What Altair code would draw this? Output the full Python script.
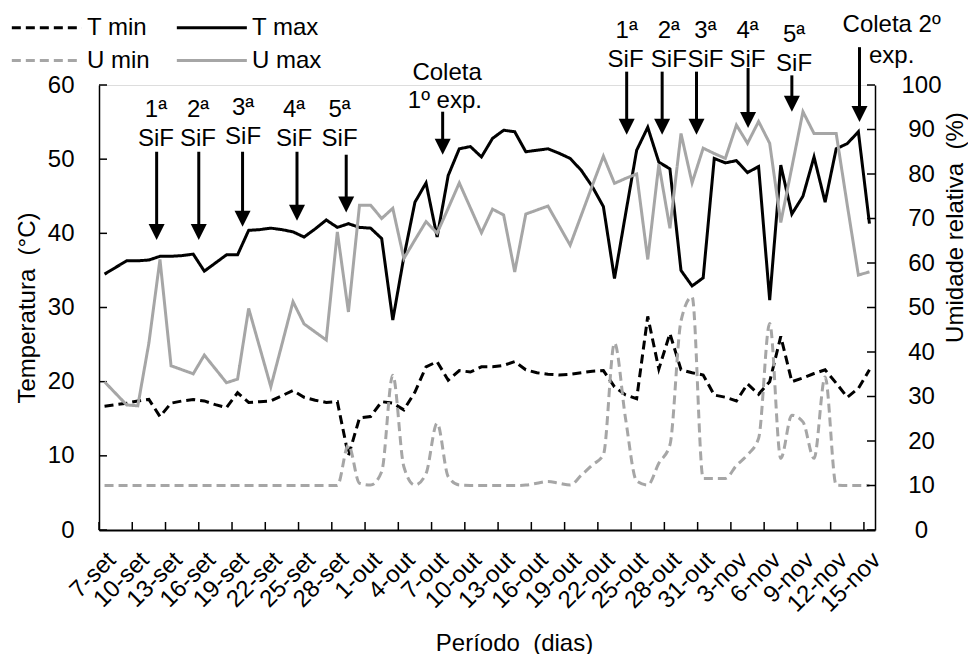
import altair as alt
import pandas as pd

# Daily categories, 7-set .. 15-nov
datas = ([f"{d}-set" for d in range(7, 31)]
         + [f"{d}-out" for d in range(1, 32)]
         + [f"{d}-nov" for d in range(1, 16)])

# Temperature (°C)
t_min = [16.7, 16.9, 17.1, 17.4, 17.6, 15.3, 17.1, 17.4, 17.6, 17.4,
         16.9, 16.5, 18.5, 17.2, 17.3, 17.4, 18.1, 18.8, 17.9, 17.5,
         17.2, 17.3, 10.0, 15.1, 15.3, 17.3, 17.1, 16.2, 18.6, 22.0,
         22.7, 20.2, 21.5, 21.3, 22.0, 22.0, 22.2, 22.7, 21.6, 21.2,
         21.0, 20.9, 21.0, 21.2, 21.4, 21.5, 19.3, 18.2, 17.7, 28.8,
         21.7, 26.5, 21.6, 21.2, 20.9, 18.2, 17.9, 17.4, 19.7, 18.3,
         20.0, 26.1, 20.0, 20.5, 21.1, 21.6, 19.8, 17.9, 19.1, 21.6]
t_max = [34.5, 35.4, 36.3, 36.3, 36.4, 36.9, 36.9, 37.0, 37.2, 34.9,
         36.0, 37.1, 37.1, 40.4, 40.5, 40.7, 40.5, 40.2, 39.5, 40.6,
         41.8, 40.8, 41.3, 40.8, 40.7, 39.3, 28.3, 36.8, 44.2, 46.8,
         39.5, 47.8, 51.4, 51.7, 50.3, 52.8, 53.9, 53.7, 51.0, 51.2,
         51.4, 50.8, 50.1, 48.5, 46.3, 43.6, 33.9, 42.6, 51.2, 54.3,
         49.6, 48.7, 35.0, 32.9, 34.0, 50.1, 49.5, 49.8, 48.2, 49.0,
         31.0, 49.2, 42.6, 45.0, 50.3, 44.2, 51.4, 52.1, 53.7, 41.3]

# Relative humidity (%)
u_min = [10.0, 10.0, 10.0, 10.0, 10.0, 10.0, 10.0, 10.0, 10.0, 10.0,
         10.0, 10.0, 10.0, 10.0, 10.0, 10.0, 10.0, 10.0, 10.0, 10.0,
         10.0, 10.0, 19.1, 10.5, 10.1, 13.1, 34.8, 14.2, 10.1, 12.7,
         24.0, 12.0, 10.1, 10.0, 10.0, 10.0, 10.0, 10.0, 10.1, 10.5,
         10.9, 10.5, 10.1, 12.3, 14.6, 16.9, 42.0, 25.0, 11.0, 10.1,
         15.0, 19.1, 47.0, 52.4, 11.6, 11.6, 11.6, 14.5, 16.9, 20.6,
         46.4, 16.1, 25.8, 24.3, 16.1, 34.4, 10.1, 10.0, 10.0, 10.0]
u_max = [33.3, 30.7, 28.1, 27.9, 42.0, 60.8, 36.9, 36.0, 35.1, 39.3,
         36.2, 33.1, 33.9, 49.8, 41.0, 32.2, 41.7, 51.3, 46.3, 44.5,
         42.7, 67.0, 49.0, 73.0, 73.0, 70.0, 72.3, 61.0, 65.2, 69.3,
         66.7, 72.3, 78.0, 72.4, 66.8, 72.1, 70.8, 58.0, 71.0, 71.9,
         72.8, 68.4, 64.0, 70.7, 77.4, 84.0, 77.9, 79.0, 80.0, 60.8,
         82.2, 67.8, 89.1, 78.0, 85.8, 84.6, 83.5, 91.0, 86.9, 91.8,
         86.9, 69.1, 81.5, 94.0, 89.1, 89.1, 89.1, 73.0, 57.3, 58.0]

series = ["T min", "T max", "U min", "U max"]
cores = ["#000000", "#000000", "#A6A6A6", "#A6A6A6"]
tracos = [[9, 5], [1, 0], [9, 5], [1, 0]]

ticks_temp = [0, 10, 20, 30, 40, 50, 60]
ticks_umid = [0, 10, 20, 30, 40, 50, 60, 70, 80, 90, 100]
rotulos_x = list(range(0, len(datas), 3))

# Arrows: day position, top of shaft and tip (in °C units of the left axis)
seta_dia = [4.7, 8.5, 12.45, 17.36, 21.8, 30.5, 47.1, 50.3, 53.4, 58.05, 62.0, 68.1]
seta_topo = [51.0, 51.0, 51.0, 51.0, 50.6, 56.4, 61.8, 61.8, 61.8, 62.3, 61.3, 65.1]
seta_ponta = [39.1, 39.1, 40.9, 41.7, 42.8, 50.6, 53.3, 53.3, 53.3, 54.2, 56.4, 55.0]

# Event labels
nota_texto = ["1ª", "SiF", "2ª", "SiF", "3ª", "SiF", "4ª", "SiF", "5ª", "SiF",
              "Coleta", "1º exp.",
              "1ª", "SiF", "2ª", "SiF", "3ª", "SiF", "4ª", "SiF", "5ª", "SiF",
              "Coleta 2º", "exp."]
nota_dia = [4.64, 4.64, 8.43, 8.43, 12.5, 12.5, 17.1, 17.1, 21.2, 21.2,
            30.9, 30.7,
            47.1, 47.0, 50.9, 50.9, 54.2, 54.2, 58.0, 58.0, 62.2, 62.2,
            71.0, 71.0]
nota_t = [55.7, 51.8, 55.7, 51.8, 56.0, 52.0, 55.7, 51.8, 55.7, 51.8,
          60.7, 56.9,
          66.3, 62.4, 66.3, 62.4, 66.3, 62.4, 66.3, 62.4, 65.8, 61.9,
          67.1, 63.0]

FONTE = "Liberation Sans"
dias = list(range(len(datas)))

tmin_df = pd.DataFrame({"dia": dias, "serie": "T min", "t": t_min})
tmax_df = pd.DataFrame({"dia": dias, "serie": "T max", "t": t_max})
umin_df = pd.DataFrame({"dia": dias, "serie": "U min", "u": u_min})
umax_df = pd.DataFrame({"dia": dias, "serie": "U max", "u": u_max})
setas_df = pd.DataFrame({"dia": seta_dia, "t": seta_topo, "t2": seta_ponta})
notas_df = pd.DataFrame({"dia": nota_dia, "t": nota_t, "texto": nota_texto})
tick_x_df = pd.DataFrame({"dia": [d - 0.5 for d in rotulos_x]})
tick_t_df = pd.DataFrame({"t": ticks_temp})
tick_u_df = pd.DataFrame({"u": ticks_umid})

label_expr = "[" + ",".join(f"'{d}'" for d in datas) + "][datum.value]"

eixo_x = alt.Axis(values=rotulos_x, labelExpr=label_expr, labelAngle=-45,
                  labelAlign="right", labelBaseline="middle", labelPadding=26,
                  labelOffset=7, ticks=False, tickSize=0, grid=False,
                  labelOverlap=False, labelFlush=False, labelBound=False,
                  labelFontSize=24, labelColor="black", labelFont=FONTE,
                  domainColor="black", domainWidth=2,
                  title="Período\u00a0 (dias)", titleFontSize=24,
                  titleFontWeight="normal", titleColor="black", titleFont=FONTE,
                  titleX=415, titleY=120, titleBaseline="alphabetic",
                  titleAlign="center")
x_enc = alt.X("dia:Q", scale=alt.Scale(domain=[-0.5, len(datas) - 0.5], nice=False, zero=False),
              axis=eixo_x)

eixo_t = alt.Axis(orient="left", values=ticks_temp, ticks=False, tickSize=0, grid=False,
                  labelPadding=25, labelFontSize=24, labelColor="black", labelFont=FONTE,
                  domainColor="black", domainWidth=1.5,
                  title="Temperatura\u00a0 (°C)", titleFontSize=24, titleFontWeight="normal",
                  titleColor="black", titleFont=FONTE, titlePadding=8)
y_t = alt.Y("t:Q", scale=alt.Scale(domain=[0, 60], nice=False), axis=eixo_t)

eixo_u = alt.Axis(orient="right", values=ticks_umid, ticks=False, tickSize=0, grid=False,
                  labelPadding=46, labelAlign="center", labelFontSize=24,
                  labelColor="black", labelFont=FONTE,
                  domainColor="black", domainWidth=1.5,
                  title="Umidade relativa\u00a0 (%)", titleFontSize=24,
                  titleFontWeight="normal", titleColor="black", titleFont=FONTE,
                  titleAngle=270, titleBaseline="top", titleAlign="center",
                  titleX=68, titleY=142)
y_u = alt.Y("u:Q", scale=alt.Scale(domain=[0, 100], nice=False), axis=eixo_u)

# Legend swatch: a long horizontal stroke inside a small symbol box,
# so the rows stay compact while the line sample is 70 px long
legenda = alt.Legend(title=None, orient="none", legendX=-89, legendY=-71, columns=2,
                     direction="horizontal",
                     symbolType="M-1,0L5,0", symbolSize=545, symbolStrokeWidth=3,
                     symbolFillColor="transparent",
                     labelFontSize=24, labelFont=FONTE, labelColor="black",
                     labelOffset=50, columnPadding=20, rowPadding=7, padding=0)
cor = alt.Color("serie:N", scale=alt.Scale(domain=series, range=cores), legend=legenda)
traco = alt.StrokeDash("serie:N", scale=alt.Scale(domain=series, range=tracos), legend=legenda)

linha_tmin = alt.Chart(tmin_df).mark_line(strokeWidth=3).encode(x=x_enc, y=y_t, color=cor, strokeDash=traco)
linha_tmax = alt.Chart(tmax_df).mark_line(strokeWidth=3).encode(x=x_enc, y=y_t, color=cor, strokeDash=traco)
linha_umin = alt.Chart(umin_df).mark_line(strokeWidth=3, interpolate="monotone").encode(
    x=x_enc, y=y_u, color=cor, strokeDash=traco)
linha_umax = alt.Chart(umax_df).mark_line(strokeWidth=3).encode(x=x_enc, y=y_u, color=cor, strokeDash=traco)

# Inward tick marks on the three axes
marca_x = alt.Chart(tick_x_df).mark_rule(color="black", strokeWidth=1.5).encode(
    x=x_enc, y=alt.value(445), y2=alt.value(437))
marca_t = alt.Chart(tick_t_df).mark_rule(color="black", strokeWidth=1.5).encode(
    y=y_t, x=alt.value(0), x2=alt.value(8))
marca_u = alt.Chart(tick_u_df).mark_rule(color="black", strokeWidth=1.5).encode(
    y=y_u, x=alt.value(776), x2=alt.value(768))

haste = alt.Chart(setas_df).mark_rule(color="black", strokeWidth=3, y2Offset=-8).encode(
    x=x_enc, y=y_t, y2="t2:Q")
ponta = alt.Chart(setas_df).mark_point(shape="M-1,-1L1,-1L0,1Z", filled=True, size=256,
                                       color="black", opacity=1, strokeWidth=0, yOffset=-8).encode(
    x=x_enc, y=alt.Y("t2:Q", scale=alt.Scale(domain=[0, 60], nice=False), axis=eixo_t))
notas = alt.Chart(notas_df).mark_text(font=FONTE, fontSize=24, color="black", align="center",
                                      baseline="alphabetic").encode(
    x=x_enc, y=y_t, text="texto:N")

grupo_t = alt.layer(linha_tmin, linha_tmax, marca_t, marca_x, haste, ponta, notas)
grupo_u = alt.layer(linha_umin, linha_umax, marca_u)

chart = alt.layer(grupo_t, grupo_u).resolve_scale(y="independent").properties(
    width=776, height=445,
    autosize=alt.AutoSizeParams(type="none"),
    padding={"left": 99, "top": 85, "right": 93, "bottom": 124},
    background="white",
).configure_view(stroke=None).configure(font=FONTE)

chart.save("out.html", embed_options={"renderer": "svg", "actions": False})
